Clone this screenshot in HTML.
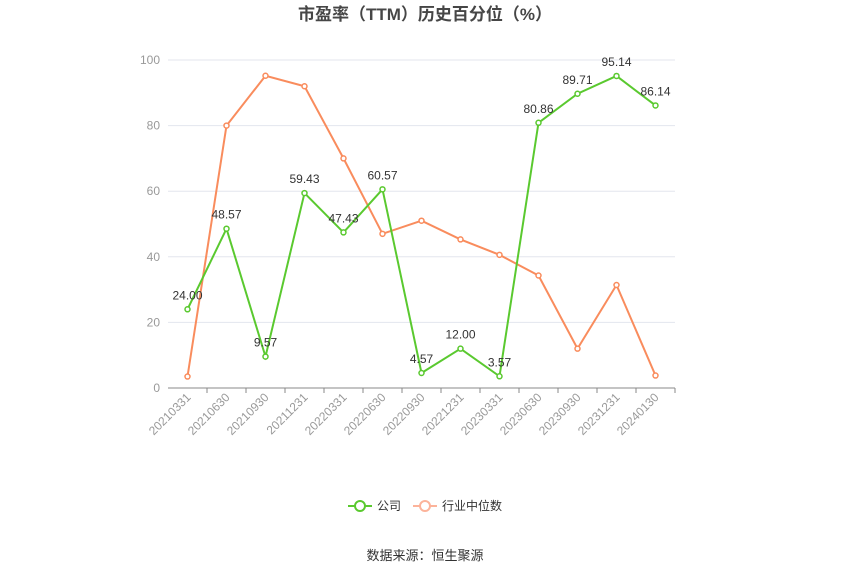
<!DOCTYPE html>
<html><head><meta charset="utf-8"><style>
body{margin:0;background:#fff;font-family:"Liberation Sans","Noto Sans CJK SC",sans-serif}
svg text{font-family:"Liberation Sans","Noto Sans CJK SC",sans-serif}
</style></head><body>
<svg id="c" width="850" height="574">
<text x="425" y="20" text-anchor="middle" font-size="17" font-weight="bold" fill="#464646">市盈率（TTM）历史百分位（%）</text>
<g id="grid"></g><g id="xax"></g><g id="series"></g>
<g>
<g>
<line x1="348" y1="506" x2="372" y2="506" stroke="#5ac92f" stroke-width="2"/>
<circle cx="360" cy="506" r="5" fill="#fff" stroke="#5ac92f" stroke-width="2"/>
<text x="377" y="510" font-size="12" fill="#333">公司</text></g>
<g>
<line x1="413" y1="506" x2="437" y2="506" stroke="#fcb39a" stroke-width="2"/>
<circle cx="425" cy="506" r="5" fill="#fff" stroke="#fcb39a" stroke-width="2"/>
<text x="442" y="510" font-size="12" fill="#333">行业中位数</text></g>
</g>
<text x="425" y="560" text-anchor="middle" font-size="13" fill="#333">数据来源：恒生聚源</text>
</svg>
<script>
const categories=["20210331","20210630","20210930","20211231","20220331","20220630","20220930","20221231","20230331","20230630","20230930","20231231","20240130"];
const companyValues=[24.00,48.57,9.57,59.43,47.43,60.57,4.57,12.00,3.57,80.86,89.71,95.14,86.14];
const industryValues=[3.5,80,95.2,92,70,47,51,45.3,40.6,34.3,12,31.4,3.8];
const yTicks=[0,20,40,60,80,100];
const NS="http://www.w3.org/2000/svg";
const L=168,R=675,T=60,B=388;
const bw=(R-L)/categories.length;
const x=i=>L+bw*(i+0.5);
const y=v=>B-(v/100)*(B-T);
function mk(tag,attrs,parent,text){const e=document.createElementNS(NS,tag);for(const k in attrs)e.setAttribute(k,attrs[k]);if(text!==undefined)e.textContent=text;parent.appendChild(e);return e;}
const grid=document.getElementById('grid'),xax=document.getElementById('xax'),ser=document.getElementById('series');
yTicks.forEach(t=>{
 if(t>0){const g=mk('line',{x1:L,x2:R,y1:y(t),y2:y(t),stroke:'#e3e6ee'},grid);
 
 }
 const tx=mk('text',{x:L-8,y:y(t)+4,'text-anchor':'end','font-size':12,fill:'#999'},grid,String(t));
 
 
});
const ax=mk('line',{x1:L,x2:R,y1:B,y2:B,stroke:'#888'},xax);


categories.forEach((c,i)=>{
 const tk=mk('line',{x1:x(i)+bw/2,x2:x(i)+bw/2,y1:B,y2:B+5,stroke:'#888'},xax);
 
 
 const tx=mk('text',{x:x(i)+4,y:B+10,'text-anchor':'end','font-size':12,fill:'#999',transform:`rotate(-45 ${x(i)+4} ${B+10})`},xax,c);
 
 
});
function drawSeries(vals,color,name,labels){
 const p=mk('polyline',{points:vals.map((v,i)=>x(i)+','+y(v)).join(' '),fill:'none',stroke:color,'stroke-width':2},ser);
 
 
 vals.forEach((v,i)=>{
  const c=mk('circle',{cx:x(i),cy:y(v),r:2.5,fill:'#fff',stroke:color,'stroke-width':1.5},ser);
  
  
  if(labels){const t=mk('text',{x:x(i),y:y(v)-10,'text-anchor':'middle','font-size':12,fill:'#333'},ser,v.toFixed(2));
  
  }
 });
}
drawSeries(industryValues,'#f98c5d','industry-median',false);
drawSeries(companyValues,'#5ac92f','company',true);
</script>
</body></html>
